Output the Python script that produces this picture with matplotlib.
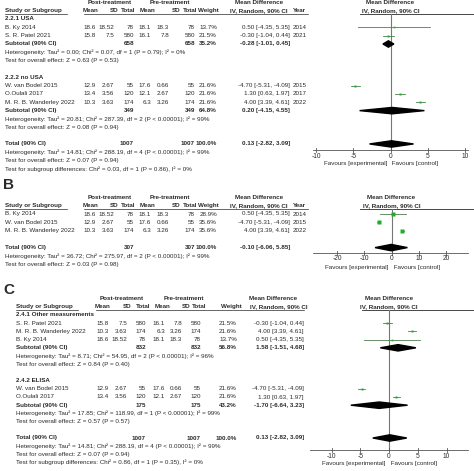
import matplotlib.pyplot as plt
from matplotlib.patches import Polygon

plt.rcParams['font.family'] = ['Liberation Sans', 'DejaVu Sans']

W, H = 474, 471
FS = 4.5
TXT = '#2a2a2a'

# study level data
studies = ['B. Ky 2014', 'S. R. Patel 2021', 'W. van Bodel 2015',
           'O.Oulali 2017', 'M. R. B. Wanderley 2022']
years = ['2014', '2021', '2015', '2017', '2022']
post_mean = ['18.6', '15.8', '12.9', '13.4', '10.3']
post_sd = ['18.52', '7.5', '2.67', '3.56', '3.63']
post_n = [78, 580, 55, 120, 174]
pre_mean = ['18.1', '16.1', '17.6', '12.1', '6.3']
pre_sd = ['18.3', '7.8', '0.66', '2.67', '3.26']
pre_n = [78, 580, 55, 120, 174]
md = [0.50, -0.30, -4.70, 1.30, 4.00]
ci_lo = [-4.35, -1.04, -5.31, 0.63, 3.39]
ci_hi = [5.35, 0.44, -4.09, 1.97, 4.61]

# pooled results per panel
pool_a_label = ['Subtotal (90% CI)', 'Subtotal (90% CI)', 'Total (90% CI)']
pool_a_n = [658, 349, 1007]
pool_a_w = [35.2, 64.8, 100.0]
pool_a_md = [-0.28, 0.20, 0.13]
pool_a_lo = [-1.01, -4.15, -2.82]
pool_a_hi = [0.45, 4.55, 3.09]

pool_b_label = ['Total (90% CI)']
pool_b_n = [307]
pool_b_w = [100.0]
pool_b_md = [-0.10]
pool_b_lo = [-6.06]
pool_b_hi = [5.85]

pool_c_label = ['Subtotal (90% CI)', 'Subtotal (90% CI)', 'Total (90% CI)']
pool_c_n = [832, 175, 1007]
pool_c_w = [56.8, 43.2, 100.0]
pool_c_md = [1.58, -1.70, 0.13]
pool_c_lo = [-1.51, -6.64, -2.82]
pool_c_hi = [4.68, 3.23, 3.09]

het = {
    'a1': 'Heterogeneity: Tau\u00b2 = 0.00; Chi\u00b2 = 0.07, df = 1 (P = 0.79); I\u00b2 = 0%',
    'a1z': 'Test for overall effect: Z = 0.63 (P = 0.53)',
    'a2': 'Heterogeneity: Tau\u00b2 = 20.81; Chi\u00b2 = 287.39, df = 2 (P < 0.00001); I\u00b2 = 99%',
    'a2z': 'Test for overall effect: Z = 0.08 (P = 0.94)',
    'tot': 'Heterogeneity: Tau\u00b2 = 14.81; Chi\u00b2 = 288.19, df = 4 (P < 0.00001); I\u00b2 = 99%',
    'totz': 'Test for overall effect: Z = 0.07 (P = 0.94)',
    'asub': 'Test for subgroup differences: Chi\u00b2 = 0.03, df = 1 (P = 0.86), I\u00b2 = 0%',
    'b': 'Heterogeneity: Tau\u00b2 = 36.72; Chi\u00b2 = 275.97, df = 2 (P < 0.00001); I\u00b2 = 99%',
    'bz': 'Test for overall effect: Z = 0.03 (P = 0.98)',
    'c1': 'Heterogeneity: Tau\u00b2 = 8.71; Chi\u00b2 = 54.95, df = 2 (P < 0.00001); I\u00b2 = 96%',
    'c1z': 'Test for overall effect: Z = 0.84 (P = 0.40)',
    'c2': 'Heterogeneity: Tau\u00b2 = 17.85; Chi\u00b2 = 118.99, df = 1 (P < 0.00001); I\u00b2 = 99%',
    'c2z': 'Test for overall effect: Z = 0.57 (P = 0.57)',
    'csub': 'Test for subgroup differences: Chi\u00b2 = 0.86, df = 1 (P = 0.35), I\u00b2 = 0%',
}

# row lists: (kind, key, weight)
rows_a = [('grp', '2.2.1 USA'), ('st', 0, 13.7), ('st', 1, 21.5), ('pool', 0),
          ('txt', het['a1']), ('txt', het['a1z']), ('blank',),
          ('grp', '2.2.2 no USA'), ('st', 2, 21.6), ('st', 3, 21.6), ('st', 4, 21.6), ('pool', 1),
          ('txt', het['a2']), ('txt', het['a2z']), ('blank',),
          ('pool', 2), ('txt', het['tot']), ('txt', het['totz']), ('txt', het['asub'])]
rows_b = [('st', 0, 28.9), ('st', 2, 35.6), ('st', 4, 35.6), ('blank',),
          ('pool', 0), ('txt', het['b']), ('txt', het['bz'])]
rows_c = [('grp', '2.4.1 Other measurements'), ('st', 1, 21.5), ('st', 4, 21.6), ('st', 0, 13.7), ('pool', 0),
          ('txt', het['c1']), ('txt', het['c1z']), ('blank',),
          ('grp', '2.4.2 ELISA'), ('st', 2, 21.6), ('st', 3, 21.6), ('pool', 1),
          ('txt', het['c2']), ('txt', het['c2z']), ('blank',),
          ('pool', 2), ('txt', het['tot']), ('txt', het['totz']), ('txt', het['csub'])]

fig = plt.figure(figsize=(W / 100, H / 100), dpi=100)
bg = fig.add_axes([0, 0, 1, 1])
bg.set_xlim(0, W)
bg.set_ylim(H, 0)
bg.axis('off')


def txt(x, y, s, ha='left', bold=False, size=FS):
    bg.text(x, y, s, ha=ha, va='center', fontsize=size, color=TXT,
            fontweight='bold' if bold else 'normal')


def draw_panel(rows, pool, lay):
    label, pn, pw, pmd, plo, phi = pool
    c = lay['cols']
    y0, pitch = lay['y0'], lay['pitch']
    # headers
    hy2 = y0 - pitch
    hy = hy2 - 8
    txt(c['post_c'], hy, 'Post-treatment', ha='center', bold=True)
    txt(c['pre_c'], hy, 'Pre-treatment', ha='center', bold=True)
    txt(c['md_c'], hy, 'Mean Difference', ha='center', bold=True)
    txt(lay['x0'], hy, 'Mean Difference', ha='center', bold=True)
    txt(c['lab'], hy2, 'Study or Subgroup', bold=True)
    for key, name in [('pm_h', 'Mean'), ('ps_h', 'SD'), ('pn_h', 'Total'),
                      ('qm_h', 'Mean'), ('qs_h', 'SD'), ('qn_h', 'Total'), ('w_h', 'Weight')]:
        txt(c[key], hy2, name, ha='right', bold=True)
    txt(c['md_c2'], hy2, 'IV, Random, 90% CI', ha='center', bold=True)
    if lay['year']:
        txt(c['year'], hy2, 'Year', bold=True)
    txt(lay['x0'], hy2, 'IV, Random, 90% CI', ha='center', bold=True)
    uy = hy2 + 3.4
    bg.plot([c['lab'], c['lab'] + 62], [uy, uy], color=TXT, lw=0.5)
    bg.plot([c['pm_h'] - 14, c['ul_end']], [uy, uy], color=TXT, lw=0.5)

    # forest axes
    x0, s = lay['x0'], lay['scale']
    ax = fig.add_axes([lay['left'] / W, 0, (W - lay['left']) / W, 1])
    ax.set_xlim((lay['left'] - x0) / s, (W - x0) / s)
    ax.set_ylim(H, 0)
    ax.axis('off')
    ax.plot([(lay['top_l'] - x0) / s, (W - x0) / s], [uy, uy], color=TXT, lw=0.6)

    for i, r in enumerate(rows):
        y = y0 + pitch * i
        if r[0] == 'grp':
            txt(c['lab'], y, r[1], bold=True)
        elif r[0] == 'txt':
            txt(c['lab'], y, r[1])
        elif r[0] == 'st':
            k, w = r[1], r[2]
            txt(c['lab'], y, studies[k])
            txt(c['pm'], y, post_mean[k], ha='right')
            txt(c['ps'], y, post_sd[k], ha='right')
            txt(c['pn'], y, str(post_n[k]), ha='right')
            txt(c['qm'], y, pre_mean[k], ha='right')
            txt(c['qs'], y, pre_sd[k], ha='right')
            txt(c['qn'], y, str(pre_n[k]), ha='right')
            txt(c['w'], y, f'{w:.1f}%', ha='right')
            txt(c['ci'], y, f'{md[k]:.2f} [{ci_lo[k]:.2f}, {ci_hi[k]:.2f}]', ha='right')
            if lay['year']:
                txt(c['year'], y, years[k])
            ax.plot([ci_lo[k], ci_hi[k]], [y, y], color='#4f7f4f', lw=0.6, zorder=3)
            ax.plot(md[k], y, marker='s', ms=0.09 * w, color='#1fae2a',
                    mec='none', zorder=4)
        elif r[0] == 'pool':
            k = r[1]
            txt(c['lab'], y, label[k], bold=True)
            txt(c['pn'], y, str(pn[k]), ha='right', bold=True)
            txt(c['qn'], y, str(pn[k]), ha='right', bold=True)
            txt(c['w'], y, f'{pw[k]:.1f}%', ha='right', bold=True)
            txt(c['ci'], y, f'{pmd[k]:.2f} [{plo[k]:.2f}, {phi[k]:.2f}]', ha='right', bold=True)
            ax.add_patch(Polygon([(plo[k], y), (pmd[k], y - 3.2), (phi[k], y), (pmd[k], y + 3.2)],
                                 closed=True, color='black', zorder=4))

    # zero line and axis
    ay = lay['axis_y']
    ax.plot([0, 0], [uy, ay], color='#777777', lw=0.8, zorder=2)
    lo_x, hi_x = lay['axis_span']
    ax.plot([lo_x, hi_x], [ay, ay], color='#555555', lw=0.6)
    for t in lay['ticks']:
        ax.plot([t, t], [ay - 2, ay + 2], color='#555555', lw=0.6)
        ax.text(t, ay + 6, f'{t:g}', ha='center', va='center',
                fontsize=FS + 0.3, color=TXT)
    ax.text(0, ay + 14, 'Favours [experimental]  ', ha='right', va='center', fontsize=FS, color=TXT)
    ax.text(0, ay + 14, ' Favours [control]', ha='left', va='center', fontsize=FS, color=TXT)


cols_ab = dict(lab=5, pm=96, ps=114, pn=134, qm=151, qs=169, qn=195, w=217,
               pm_h=98, ps_h=118, pn_h=135, qm_h=155, qs_h=180, qn_h=197, w_h=219,
               post_c=110, pre_c=170, md_c=259, md_c2=259, ci=290, year=293, ul_end=308)
cols_c = dict(lab=16, pm=109, ps=127, pn=146, qm=165, qs=182, qn=201, w=237,
              pm_h=110, ps_h=131, pn_h=150, qm_h=170, qs_h=190, qn_h=206, w_h=242,
              post_c=122, pre_c=184, md_c=273, md_c2=279, ci=304, year=0, ul_end=304)

draw_panel(rows_a, (pool_a_label, pool_a_n, pool_a_w, pool_a_md, pool_a_lo, pool_a_hi),
           dict(cols=cols_ab, y0=19, pitch=8.33, x0=390.5, scale=7.45, left=250, top_l=360,
                year=True, axis_y=150, axis_span=(-10.4, 10.4), ticks=[-10, -5, 0, 5, 10]))
draw_panel(rows_b, (pool_b_label, pool_b_n, pool_b_w, pool_b_md, pool_b_lo, pool_b_hi),
           dict(cols=cols_ab, y0=214, pitch=8.4, x0=391.5, scale=2.72, left=250, top_l=360,
                year=True, axis_y=253, axis_span=(-28.8, 28.2), ticks=[-20, -10, 0, 10, 20]))
draw_panel(rows_c, (pool_c_label, pool_c_n, pool_c_w, pool_c_md, pool_c_lo, pool_c_hi),
           dict(cols=cols_c, y0=315, pitch=8.2, x0=389, scale=5.75, left=250, top_l=362,
                year=False, axis_y=450, axis_span=(-13.7, 13.7), ticks=[-10, -5, 0, 5, 10]))

txt(3, 185, 'B', bold=True, size=11)
txt(3, 290, 'C', bold=True, size=11)

fig.savefig('out.png', dpi=100)
